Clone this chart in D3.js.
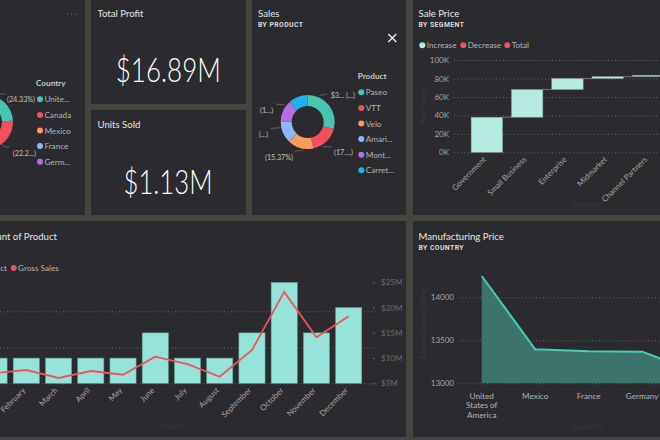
<!DOCTYPE html>
<html>
<head>
<meta charset="utf-8">
<script src="https://cdnjs.cloudflare.com/ajax/libs/d3/7.8.5/d3.min.js"></script>
<style>
  html, body { margin: 0; padding: 0; background: #45453f; overflow: hidden; }
  text { font-family: Lato, "Open Sans", sans-serif; }
  .title { fill: #e6e6e6; font-size: 9.6px; }
  .sub { fill: #dcdcdc; font-family: Roboto, sans-serif; font-size: 6.8px; font-weight: 700; letter-spacing: .45px; }
  .big { fill: #ffffff; font-weight: 300; font-size: 34px; text-anchor: middle; }
  .leg { fill: #b4b4b4; font-size: 8.2px; }
  .legh { fill: #c8c8c8; font-size: 8.2px; font-weight: 700; }
  .lab { fill: #c0c0c0; font-size: 7.2px; }
  .ghost { fill: #39393c; font-size: 8px; text-anchor: middle; }
  .tick text { fill: #a6a6a6; font-size: 8px; }
  .grid line { stroke: #66666a; stroke-dasharray: 1 2.5; }
</style>
</head>
<body>
<svg id="chart" width="660" height="440"></svg>
<script>
// donuts
const countries = ['Unite...', 'Canada', 'Mexico', 'France', 'Germ...'];
const countryShare = [24.33, 22.2, 18.1, 17.9, 17.47];
const products = ['Paseo', 'VTT', 'Velo', 'Amari...', 'Mont...', 'Carret...'];
const productShare = [29.2, 17.4, 15.37, 13.5, 13, 11.53];
const donutColors = ['#47c5b0', '#f2505f', '#fb9a5c', '#8db7fa', '#b26fe0', '#1fb3ea'];

// waterfall
const segments = ['Government', 'Small Business', 'Enterprise', 'Midmarket', 'Channel Partners'];
const segmentPrice = [38000, 30000, 12000, 2000, 1500];
const priceTicks = [0, 20000, 40000, 60000, 80000, 100000];

// combo
const months = ['January', 'February', 'March', 'April', 'May', 'June', 'July', 'August', 'September', 'October', 'November', 'December'];
const productCount = [7, 7, 7, 7, 7, 14, 7, 7, 14, 28, 14, 21];
const grossSales = [7.0, 7.63, 6.05, 7.43, 6.7, 10.26, 8.8, 6.3, 11.6, 23.1, 14.1, 18.3];
const countTicks = [0, 10, 20];
const salesTicks = [5, 10, 15, 20, 25];

// area
const mfgCountries = ['United States of America', 'Mexico', 'France', 'Germany', 'Canada'];
const mfgPrice = [14248, 13395, 13372, 13368, 13135];
const mfgTicks = [13000, 13500, 14000];

const svg = d3.select('#chart');

// panels
const panels = [[-4, -4, 89, 219], [91, -4, 155, 108], [91, 110, 155, 105], [252, -4, 154, 219], [413, -4, 250, 219], [-4, 221, 410, 216], [413, 221, 250, 216]];
svg.selectAll('rect.panel').data(panels).join('rect')
  .attr('class', 'panel')
  .attr('x', d => d[0]).attr('y', d => d[1])
  .attr('width', d => d[2]).attr('height', d => d[3])
  .attr('fill', '#2b2a2f');

function addText(x, y, txt, cls, anchor) {
  return svg.append('text').attr('x', x).attr('y', y).attr('class', cls)
    .attr('text-anchor', anchor || null).text(txt);
}

addText(97.5, 17, 'Total Profit', 'title');
addText(97.5, 128, 'Units Sold', 'title');
addText(168.3, 82, '$16.89M', 'big').attr('textLength', 105).attr('lengthAdjust', 'spacingAndGlyphs');
addText(168, 194, '$1.13M', 'big').attr('textLength', 89).attr('lengthAdjust', 'spacingAndGlyphs');
addText(258, 17, 'Sales', 'title');
addText(258, 27, 'BY PRODUCT', 'sub');
addText(418.5, 17, 'Sale Price', 'title');
addText(418.5, 27, 'BY SEGMENT', 'sub');
addText(418.5, 240, 'Manufacturing Price', 'title');
addText(418.5, 250, 'BY COUNTRY', 'sub');
addText(57, 240, 'Gross Sales and Count of Product', 'title', 'end');

// more options dots and close icon
svg.selectAll('circle.more').data([-1, 0, 1]).join('circle')
  .attr('class', 'more').attr('cx', d => 71.7 + d * 4).attr('cy', 14).attr('r', .6).attr('fill', '#8a8a8a');
svg.append('path').attr('d', d3.line()([[388.3, 34], [396.3, 42]]) + d3.line()([[396.3, 34], [388.3, 42]]))
  .attr('stroke', '#f2f2f2').attr('stroke-width', 1.3);

function donut(cx, cy, values, names, header, hx, hy, step, dotX) {
  const pie = d3.pie().sort(null)(values);
  const arc = d3.arc().innerRadius(16).outerRadius(27);
  const g = svg.append('g').attr('transform', `translate(${cx},${cy})`);
  g.selectAll('path').data(pie).join('path')
    .attr('d', arc).attr('fill', (d, i) => donutColors[i]);
  addText(hx, hy, header, 'legh');
  names.forEach((n, i) => {
    const y = hy + 13.3 + i * step;
    svg.append('circle').attr('cx', dotX).attr('cy', y).attr('r', 3).attr('fill', donutColors[i]);
    addText(dotX + 4.4, y + 3, n, 'leg');
  });
}

donut(-14, 122, countryShare, countries, 'Country', 36, 86, 15.6, 40);
donut(307.7, 122, productShare, products, 'Product', 357.7, 79, 15.6, 361.3);

// slice labels and their leader lines
const sliceLabels = [
  ['(24.33%)', 35, 102, 'end', [[0, 94], [5, 94]]],
  ['(22.2...)', 36, 156, 'end', [[1, 143], [5, 147], [10, 147]]],
  ['$3... (...)', 330.7, 98, null, [[319.3, 95.7], [327, 94]]],
  ['(17....)', 334, 155, null, [[322.7, 146.7], [331.7, 147]]],
  ['(15.37%)', 265, 160, null, [[295, 151.3], [303.3, 150]]],
  ['(...)', 259, 137, null, [[270.7, 128.3], [280.7, 127.7]]],
  ['(1...)', 260, 113, null, [[276, 104], [285, 105]]]
];
sliceLabels.forEach(d => {
  addText(d[1], d[2], d[0], 'lab', d[3]);
  svg.append('path').attr('d', d3.line()(d[4])).attr('fill', 'none').attr('stroke', '#77777a').attr('stroke-width', .7);
});

// waterfall
{
  const x = d3.scaleBand().domain(segments).range([466.7, 668.2]).paddingInner(.22).paddingOuter(.11);
  const y = d3.scaleLinear().domain([0, 100000]).range([152.3, 60]);
  const axisY = d3.axisLeft(y).tickValues(priceTicks).tickSize(0).tickPadding(5)
    .tickFormat(d => d / 1000 + 'K');
  svg.append('g').attr('class', 'grid').attr('transform', 'translate(454,0)')
    .call(d3.axisLeft(y).tickValues(priceTicks).tickSize(-206).tickFormat(''))
    .call(g => g.select('.domain').remove());
  svg.append('g').attr('transform', 'translate(454,0)').call(axisY)
    .call(g => g.select('.domain').remove());

  let run = 0;
  const steps = segmentPrice.map(v => { const s = { from: run, to: run + v }; run += v; return s; });
  svg.selectAll('rect.wf').data(steps).join('rect').attr('class', 'wf')
    .attr('x', (d, i) => x(segments[i])).attr('width', x.bandwidth())
    .attr('y', d => y(d.to)).attr('height', d => y(d.from) - y(d.to))
    .attr('fill', '#b5ebe3').attr('stroke', '#8a9a97').attr('stroke-width', .5);
  svg.selectAll('line.conn').data(steps.slice(0, -1)).join('line').attr('class', 'conn')
    .attr('x1', (d, i) => x(segments[i]) + x.bandwidth()).attr('x2', (d, i) => x(segments[i + 1]))
    .attr('y1', d => y(d.to)).attr('y2', d => y(d.to))
    .attr('stroke', '#8c8c8c').attr('stroke-width', .7);

  const axisX = d3.axisBottom(x).tickSize(0).tickPadding(6);
  svg.append('g').attr('transform', 'translate(0,152.3)').call(axisX)
    .call(g => g.select('.domain').remove())
    .selectAll('text').attr('text-anchor', 'end')
    .attr('transform', 'rotate(-45)').attr('dx', '-.7em').attr('dy', '-.1em');

  const wfLegend = [['Increase', 422.3, '#b5ebe3'], ['Decrease', 463.3, '#f2505f'], ['Total', 507.3, '#f2505f']];
  wfLegend.forEach(d => {
    svg.append('circle').attr('cx', d[1]).attr('cy', 45.3).attr('r', 3).attr('fill', d[2]);
    addText(d[1] + 4.4, 48.2, d[0], 'leg');
  });
  addText(588, 207, 'Segment', 'ghost');
  svg.append('text').attr('class', 'ghost').attr('transform', 'translate(426,107) rotate(-90)').text('Sale Price');
}

// combo
{
  const x = d3.scaleBand().domain(months).range([-22.06, 364.82]).paddingInner(.19).paddingOuter(.095);
  const yCount = d3.scaleLinear().domain([0, 28]).range([383.3, 282.5]);
  const ySales = d3.scaleLinear().domain([5, 25]).range([383.3, 282.3]);

  svg.append('g').attr('class', 'grid')
    .call(d3.axisRight(yCount).tickValues(countTicks).tickSize(375).tickFormat(''))
    .call(g => g.select('.domain').remove());

  svg.selectAll('rect.bar').data(months).join('rect').attr('class', 'bar')
    .attr('x', d => x(d)).attr('width', x.bandwidth())
    .attr('y', (d, i) => yCount(productCount[i]))
    .attr('height', (d, i) => yCount(0) - yCount(productCount[i]))
    .attr('fill', '#96e4d9').attr('stroke', '#5fa69b').attr('stroke-width', .6);

  svg.append('path').datum(grossSales)
    .attr('d', d3.line().x((d, i) => x(months[i]) + x.bandwidth() / 2).y(d => ySales(d)))
    .attr('fill', 'none').attr('stroke', '#f2505f').attr('stroke-width', 1.8);

  svg.append('g').attr('transform', 'translate(373,0)')
    .call(d3.axisRight(ySales).tickValues(salesTicks).tickSize(2).tickPadding(6).tickFormat(d => '$' + d + 'M'))
    .call(g => g.select('.domain').remove())
    .call(g => g.selectAll('line').attr('stroke', '#66666a'))
    .call(g => g.selectAll('text').style('fill', '#6a6a6c'));

  svg.append('g').attr('transform', 'translate(0,383.3)')
    .call(d3.axisBottom(x).tickSize(0).tickPadding(6))
    .call(g => g.select('.domain').remove())
    .selectAll('text').attr('text-anchor', 'end')
    .attr('transform', 'rotate(-45)').attr('dx', '-.7em').attr('dy', '-.1em');

  addText(7, 271, 'Count of Product', 'leg', 'end');
  svg.append('circle').attr('cx', 13.7).attr('cy', 268).attr('r', 3).attr('fill', '#f2505f');
  addText(18, 271, 'Gross Sales', 'leg');
  addText(172, 429, 'Month', 'ghost');
}

// area
{
  const x = d3.scalePoint().domain(mfgCountries).range([481.7, 695.7]);
  const y = d3.scaleLinear().domain([13000, 14000]).range([383.3, 297.3]);

  svg.append('g').attr('class', 'grid').attr('transform', 'translate(459,0)')
    .call(d3.axisLeft(y).tickValues(mfgTicks).tickSize(-201).tickFormat(''))
    .call(g => g.select('.domain').remove());

  svg.append('path').datum(mfgPrice)
    .attr('d', d3.area().x((d, i) => x(mfgCountries[i])).y0(y(13000)).y1(d => y(d)))
    .attr('fill', '#3b736d');
  svg.append('path').datum(mfgPrice)
    .attr('d', d3.line().x((d, i) => x(mfgCountries[i])).y(d => y(d)))
    .attr('fill', 'none').attr('stroke', '#45cdb7').attr('stroke-width', 2);

  svg.append('g').attr('transform', 'translate(454,0)')
    .call(d3.axisLeft(y).tickValues(mfgTicks).tickSize(0).tickPadding(0).tickFormat(d3.format('d')))
    .call(g => g.select('.domain').remove());

  const wrapped = { 'United States of America': ['United', 'States of', 'America'] };
  mfgCountries.forEach(c => {
    (wrapped[c] || [c]).forEach((line, i) => {
      addText(x(c), 398.5 + i * 9.8, line, 'leg', 'middle');
    });
  });
  addText(588, 429, 'Country', 'ghost');
  svg.append('text').attr('class', 'ghost').attr('transform', 'translate(426,323) rotate(-90)').text('Manufacturing Price');
}
</script>
</body>
</html>
